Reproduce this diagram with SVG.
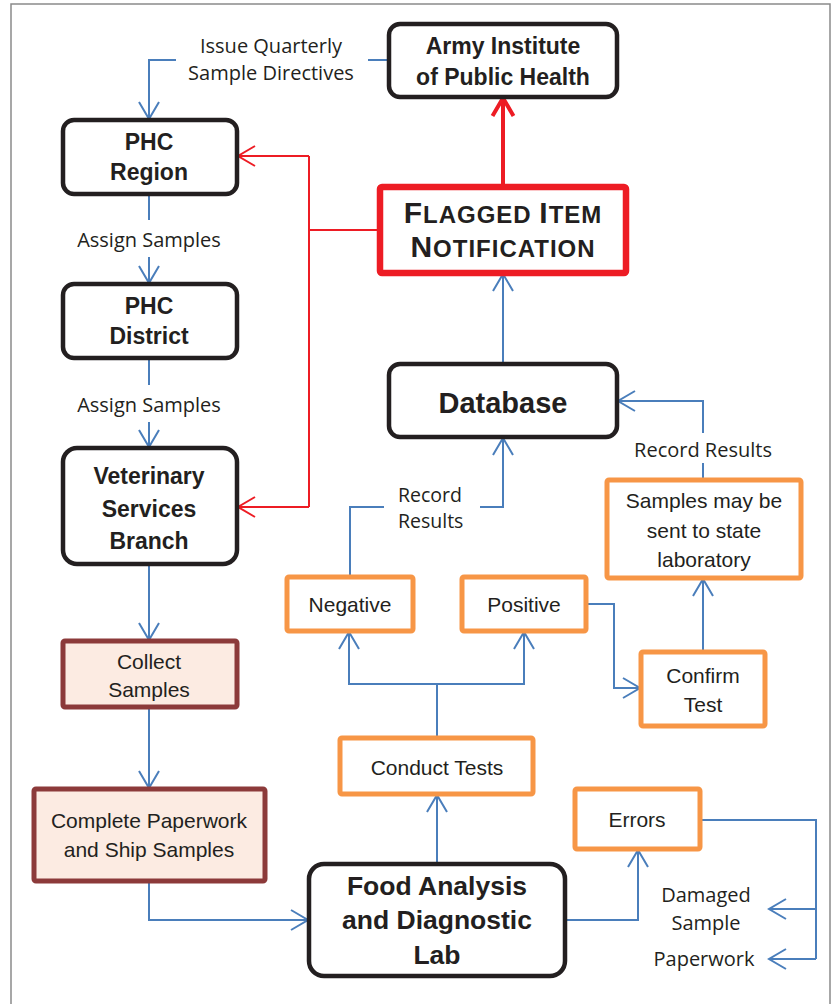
<svg xmlns="http://www.w3.org/2000/svg" width="832" height="1004" viewBox="0 0 832 1004">
<style>
.bg{fill:#ffffff}
.frame{fill:none;stroke:#8a8a8a;stroke-width:1.5}
.blk{fill:#ffffff;stroke:#231f20;stroke-width:4.5}
.org{fill:#ffffff;stroke:#f79646;stroke-width:5}
.pnk{fill:#fcebe2;stroke:#8c3a3a;stroke-width:5}
.red{fill:#ffffff;stroke:#ed1c24;stroke-width:6.5}
.bl{fill:none;stroke:#4a7ebb;stroke-width:2}
.rd{fill:none;stroke:#ed1c24;stroke-width:2}
.rdb{fill:none;stroke:#ed1c24;stroke-width:4}
.nb{font-family:"Liberation Sans",Arial,sans-serif;font-weight:bold;fill:#231f20;text-anchor:middle}
.nr{font-family:"Liberation Sans",Arial,sans-serif;font-size:21px;fill:#231f20;text-anchor:middle}
.lb{font-family:"Open Sans","DejaVu Sans",sans-serif;font-size:20px;fill:#231f20;text-anchor:middle}
</style>
<defs>
<marker id="ab" markerUnits="userSpaceOnUse" viewBox="-20 -12 22 24" refX="0" refY="0" markerWidth="22" markerHeight="24" orient="auto">
<path d="M-17,-10 L0,0 L-17,10" fill="none" stroke="#4a7ebb" stroke-width="2"/>
</marker>
<marker id="ar" markerUnits="userSpaceOnUse" viewBox="-20 -12 22 24" refX="0" refY="0" markerWidth="22" markerHeight="24" orient="auto">
<path d="M-17,-10 L0,0 L-17,10" fill="none" stroke="#ed1c24" stroke-width="2"/>
</marker>
<marker id="arb" markerUnits="userSpaceOnUse" viewBox="-22 -14 25 28" refX="0" refY="0" markerWidth="25" markerHeight="28" orient="auto">
<path d="M-18,-10.5 L0,0 L-18,10.5" fill="none" stroke="#ed1c24" stroke-width="4"/>
</marker>
</defs>
<rect class="bg" x="0" y="0" width="832" height="1004"/>
<path class="frame" d="M11,1004 V4 H830 V1004"/>

<g id="connectors">
<path class="bl" d="M389,60 H368"/>
<path class="bl" d="M176,60 H149 V119" marker-end="url(#ab)"/>
<path class="bl" d="M149,195 V220"/>
<path class="bl" d="M149,257 V283" marker-end="url(#ab)"/>
<path class="bl" d="M149,359 V385"/>
<path class="bl" d="M149,422 V447" marker-end="url(#ab)"/>
<path class="bl" d="M149,565 V640" marker-end="url(#ab)"/>
<path class="bl" d="M149,708 V788" marker-end="url(#ab)"/>
<path class="bl" d="M149,882 V920 H308" marker-end="url(#ab)"/>
<path class="bl" d="M437,863 V795" marker-end="url(#ab)"/>
<path class="bl" d="M437,737 V684"/>
<path class="bl" d="M437,684 H349 V632" marker-end="url(#ab)"/>
<path class="bl" d="M437,684 H524 V632" marker-end="url(#ab)"/>
<path class="bl" d="M587,604 H614 V688 H640" marker-end="url(#ab)"/>
<path class="bl" d="M703,651 V579" marker-end="url(#ab)"/>
<path class="bl" d="M703,479 V463"/>
<path class="bl" d="M703,433 V401 H618" marker-end="url(#ab)"/>
<path class="bl" d="M350,576 V507 H384"/>
<path class="bl" d="M480,507 H503 V438" marker-end="url(#ab)"/>
<path class="bl" d="M503,363 V274" marker-end="url(#ab)"/>
<path class="bl" d="M566,920 H638 V850" marker-end="url(#ab)"/>
<path class="bl" d="M701,820 H816 V959"/>
<path class="bl" d="M816,909 H769" marker-end="url(#ab)"/>
<path class="bl" d="M816,959 H769" marker-end="url(#ab)"/>
<path class="rdb" d="M503,186 V98" marker-end="url(#arb)"/>
<path class="rd" d="M379,230 H309"/>
<path class="rd" d="M309,156 V507"/>
<path class="rd" d="M309,156 H238" marker-end="url(#ar)"/>
<path class="rd" d="M309,507 H238" marker-end="url(#ar)"/>
<text class="lb" x="271" y="53">Issue Quarterly</text>
<text class="lb" x="271" y="80">Sample Directives</text>
<text class="lb" x="149" y="247">Assign Samples</text>
<text class="lb" x="149" y="412">Assign Samples</text>
<text class="lb" x="398" y="502" style="text-anchor:start;font-size:19.5px">Record</text>
<text class="lb" x="398" y="528" style="text-anchor:start;font-size:19.5px">Results</text>
<text class="lb" x="703" y="457">Record Results</text>
<text class="lb" x="706" y="902">Damaged</text>
<text class="lb" x="706" y="930">Sample</text>
<text class="lb" x="704" y="966">Paperwork</text>
</g>

<g id="army">
<rect class="blk" x="389" y="24" width="228" height="73" rx="11"/>
<text class="nb" x="503" y="54" font-size="23">Army Institute</text>
<text class="nb" x="503" y="85" font-size="23">of Public Health</text>
</g>
<g id="phc-region">
<rect class="blk" x="63" y="120" width="174" height="74" rx="11"/>
<text class="nb" x="149" y="150" font-size="23">PHC</text>
<text class="nb" x="149" y="180" font-size="23">Region</text>
</g>
<g id="phc-district">
<rect class="blk" x="63" y="284" width="174" height="74" rx="11"/>
<text class="nb" x="149" y="314" font-size="23">PHC</text>
<text class="nb" x="149" y="344" font-size="23">District</text>
</g>
<g id="vet">
<rect class="blk" x="63" y="448" width="174" height="116" rx="14"/>
<text class="nb" x="149" y="484" font-size="23">Veterinary</text>
<text class="nb" x="149" y="517" font-size="23">Services</text>
<text class="nb" x="149" y="549" font-size="23">Branch</text>
</g>
<g id="flagged">
<rect class="red" x="380" y="187" width="246" height="86" rx="2"/>
<text class="nb" x="503" y="223" font-size="30" letter-spacing="1">F<tspan font-size="24">LAGGED </tspan>I<tspan font-size="24">TEM</tspan></text>
<text class="nb" x="503" y="257" font-size="30" letter-spacing="1">N<tspan font-size="24">OTIFICATION</tspan></text>
</g>
<g id="database">
<rect class="blk" x="389" y="364" width="228" height="73" rx="11"/>
<text class="nb" x="503" y="413" font-size="29">Database</text>
</g>
<g id="samples-state">
<rect class="org" x="607" y="480" width="194" height="98" rx="2"/>
<text class="nr" x="704" y="508">Samples may be</text>
<text class="nr" x="704" y="538">sent to state</text>
<text class="nr" x="704" y="567">laboratory</text>
</g>
<g id="negative">
<rect class="org" x="287" y="577" width="126" height="54" rx="2"/>
<text class="nr" x="350" y="612">Negative</text>
</g>
<g id="positive">
<rect class="org" x="462" y="577" width="124" height="54" rx="2"/>
<text class="nr" x="524" y="612">Positive</text>
</g>
<g id="confirm">
<rect class="org" x="641" y="652" width="124" height="74" rx="2"/>
<text class="nr" x="703" y="683">Confirm</text>
<text class="nr" x="703" y="712">Test</text>
</g>
<g id="collect">
<rect class="pnk" x="63" y="641" width="174" height="66" rx="2"/>
<text class="nr" x="149" y="669">Collect</text>
<text class="nr" x="149" y="697">Samples</text>
</g>
<g id="conduct">
<rect class="org" x="340" y="738" width="193" height="56" rx="2"/>
<text class="nr" x="437" y="775">Conduct Tests</text>
</g>
<g id="errors">
<rect class="org" x="575" y="789" width="125" height="60" rx="2"/>
<text class="nr" x="637" y="827">Errors</text>
</g>
<g id="complete">
<rect class="pnk" x="34" y="789" width="231" height="92" rx="2"/>
<text class="nr" x="149" y="828">Complete Paperwork</text>
<text class="nr" x="149" y="857">and Ship Samples</text>
</g>
<g id="food-lab">
<rect class="blk" x="309" y="864" width="256" height="112" rx="15"/>
<text class="nb" x="437" y="895" font-size="26.5">Food Analysis</text>
<text class="nb" x="437" y="929" font-size="26.5">and Diagnostic</text>
<text class="nb" x="437" y="964" font-size="26.5">Lab</text>
</g>
</svg>
